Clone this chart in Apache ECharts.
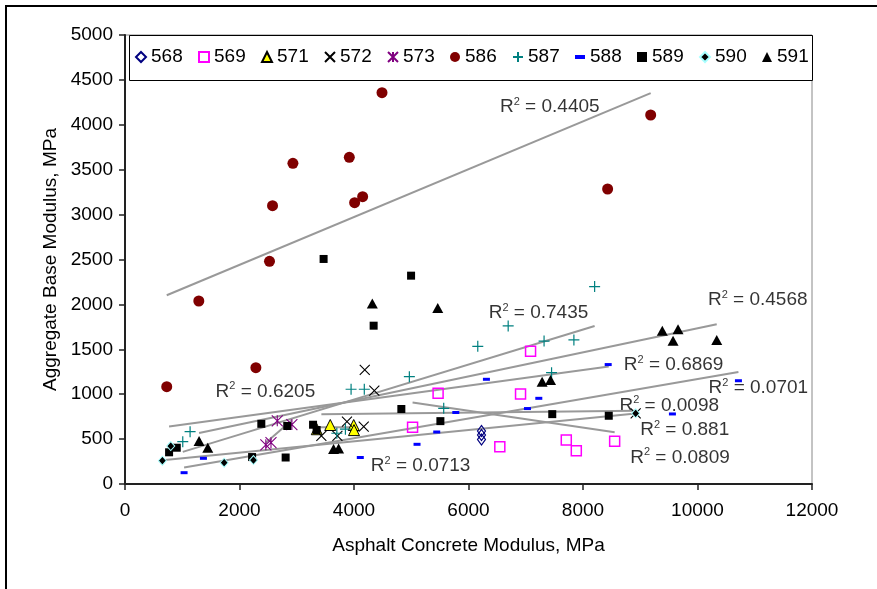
<!DOCTYPE html>
<html><head><meta charset="utf-8">
<style>html,body{margin:0;padding:0;background:#fff}#c{width:877px;height:589px}</style>
</head><body><div id="c"></div>
<script src="https://cdn.jsdelivr.net/npm/echarts@6/dist/echarts.min.js"></script>
<script>
// ---- axis settings ----
const xMin = 0, xMax = 12000, xStep = 2000;
const yMin = 0, yMax = 5000, yStep = 500;
const xTitle = 'Asphalt Concrete Modulus, MPa';
const yTitle = 'Aggregate Base Modulus, MPa';

// ---- series data [AC modulus, base modulus] ----
const names = ['568','569','571','572','573','586','587','588','589','590','591'];
const s568 = [[6227,590],[6227,545],[6227,495]];
const s569 = [[5023,631],[5469,1010],[6547,416],[6909,1002],[7084,1478],[7708,490],[7883,371],[8553,475]];
const s571 = [[3350,610],[3585,657],[3995,657],[4000,600]];
const s572 = [[3430,537],[3710,537],[3877,694],[4170,640],[4188,1270],[4355,1039],[8920,787]];
const s573 = [[2460,436],[2550,460],[2660,703],[2915,662]];
const s586 = [[729,1084],[1289,2038],[2286,1295],[2524,2480],[2577,3099],[2933,3571],[3918,3638],[4011,3133],[4151,3200],[4489,4358],[8430,3285],[9182,4109]];
const s587 = [[1009,471],[1137,583],[3700,565],[3850,610],[3949,1055],[4180,1055],[4967,1195],[5567,843],[6162,1533],[6693,1760],[7320,1592],[7451,1240],[7841,1604],[8203,2198]];
const s588 = [[1032,126],[1370,286],[4110,295],[5101,442],[5445,579],[5778,796],[6313,1166],[7030,840],[7228,954],[8440,1330],[9562,780],[10715,1150]];
const s589 = [[770,353],[904,404],[2220,300],[2381,670],[2806,295],[2834,646],[3285,660],[3347,601],[3469,2506],[4343,1763],[4827,835],[4997,2320],[5509,700],[7463,778],[8450,760]];
const s590 = [[653,259],[799,423],[1732,237],[2244,267],[8920,787]];
const s591 = [[1294,479],[1446,404],[3643,390],[3731,395],[4320,2010],[5463,1960],[7286,1139],[7433,1158],[9385,1707],[9573,1596],[9660,1723],[10336,1604]];

// ---- linear trendline end points ----
const t569 = [[5023,908],[8553,577]];
const t571 = [[3350,631],[4000,631]];
const t572 = [[3430,776],[8920,817]];
const t573 = [[2460,460],[2915,710]];
const t586 = [[729,2102],[9182,4352]];
const t587 = [[1009,358],[8203,1760]];
const t588 = [[1032,183],[10715,1246]];
const t589 = [[770,640],[8450,1308]];
const t590 = [[653,265],[8920,785]];
const t591 = [[1294,568],[10336,1779]];

// ---- R-squared labels: position (data units) and text ----
const r2X = [6541, 6344, 10174, 8704, 10184, 8628, 8990, 8815, 1574, 4285];
const r2Y = [4198, 1904, 2049, 1325, 1069, 872, 601, 290, 1028, 200];
const r2Val = ['0.4405','0.7435','0.4568','0.6869','0.0701','0.0098','0.881','0.0809','0.6205','0.0713'];

const FONT = 'Liberation Sans, Arial, sans-serif';
const FS = 19;

const P_X = 'path://M0,0L10,10M10,0L0,10';
const P_AST = 'path://M0,0L10,10M10,0L0,10M5,0L5,10';
const P_PLUS = 'path://M5,0L5,10M0,5L10,5';
const P_DASH = 'path://M0,0L10,0L10,4L0,4Z';

const styles = {
  '568': {data:s568, symbol:'diamond', size:[8,11], item:{color:'rgba(255,255,255,0)', borderColor:'#000080', borderWidth:1.2}},
  '569': {data:s569, symbol:'rect', size:10, item:{color:'rgba(255,255,255,0)', borderColor:'#FF00FF', borderWidth:1.5}},
  '571': {data:s571, symbol:'triangle', size:11, item:{color:'#FFFF00', borderColor:'#000', borderWidth:1}},
  '572': {data:s572, symbol:P_X, size:10, item:{color:'rgba(0,0,0,0)', borderColor:'#000', borderWidth:1.1}},
  '573': {data:s573, symbol:P_AST, size:11, item:{color:'rgba(0,0,0,0)', borderColor:'#800080', borderWidth:1.1}},
  '586': {data:s586, symbol:'circle', size:11, item:{color:'#800000'}},
  '587': {data:s587, symbol:P_PLUS, size:11, item:{color:'rgba(0,0,0,0)', borderColor:'#008080', borderWidth:1.2}},
  '588': {data:s588, symbol:'rect', size:[7,3], item:{color:'#0000FF'}},
  '589': {data:s589, symbol:'rect', size:8, item:{color:'#000'}},
  '590': {data:s590, symbol:'diamond', size:[8,9], item:{color:'#000', borderColor:'#A8FFFF', borderWidth:1}},
  '591': {data:s591, symbol:'triangle', size:[11,10], item:{color:'#000'}}
};
const trends = [t569,t571,t572,t573,t586,t587,t588,t589,t590,t591];

const series = [];
// R2 labels (under the markers)
series.push({
  type:'scatter', name:'r2', silent:true, symbolSize:1, z:1,
  itemStyle:{color:'rgba(0,0,0,0)'},
  data: r2X.map((x,i)=>[x, r2Y[i], r2Val[i]]),
  label:{show:true, position:'right', distance:0,
    formatter: p => '{a|R}{b|2}{a| = ' + p.data[2] + '}',
    rich:{
      a:{fontFamily:FONT, fontSize:FS, color:'#000', lineHeight:22},
      b:{fontFamily:FONT, fontSize:11, color:'#000', lineHeight:12, verticalAlign:'top'}
    }}
});
trends.forEach(t => series.push({
  type:'line', silent:true, symbol:'none', z:2, data:t,
  lineStyle:{color:'#999999', width:2, opacity:1}
}));
names.forEach(n => {
  const s = styles[n];
  series.push({type:'scatter', name:n, data:s.data, symbol:s.symbol, symbolSize:s.size,
    itemStyle:Object.assign({opacity:1}, s.item), z:3, emphasis:{disabled:true}});
});

const legendIcons = {'588':P_DASH};
const option = {
  animation:false,
  backgroundColor:'#fff',
  textStyle:{fontFamily:FONT},
  grid:{left:125, right:65, top:35, bottom:105, show:true, borderColor:'#888', borderWidth:1},
  legend:{
    data: names.map(n => legendIcons[n] ? {name:n, icon:legendIcons[n]} : {name:n}),
    left:135, top:47, itemWidth:10, itemHeight:10, itemGap:15.3, padding:0,
    textStyle:{fontFamily:FONT, fontSize:FS, color:'#000', lineHeight:20},
    selectedMode:false
  },
  xAxis:{type:'value', min:xMin, max:xMax, interval:xStep,
    name:xTitle, nameLocation:'middle', nameGap:52,
    nameTextStyle:{fontFamily:FONT, fontSize:FS, color:'#000'},
    axisLine:{show:true, onZero:false, lineStyle:{color:'#222', width:2}},
    axisTick:{show:true, inside:false, length:6, lineStyle:{color:'#222', width:1.5}},
    axisLabel:{fontFamily:FONT, fontSize:FS, color:'#000', margin:17, formatter: v => String(v)},
    splitLine:{show:false}},
  yAxis:{type:'value', min:yMin, max:yMax, interval:yStep,
    name:yTitle, nameLocation:'middle', nameGap:65,
    nameTextStyle:{fontFamily:FONT, fontSize:FS, color:'#000'},
    axisLine:{show:true, onZero:false, lineStyle:{color:'#222', width:2}},
    axisTick:{show:true, inside:false, length:6, lineStyle:{color:'#222', width:1.5}},
    axisLabel:{fontFamily:FONT, fontSize:FS, color:'#000', margin:12, formatter: v => String(v)},
    splitLine:{show:false}},
  graphic:[
    {type:'rect', left:5, top:5, shape:{width:1000, height:1000}, silent:true, z:-1,
      style:{fill:'rgba(0,0,0,0)', stroke:'#000', lineWidth:2}},
    {type:'rect', left:129, top:35, shape:{width:683, height:45}, silent:true, z:0,
      style:{fill:'#fff', stroke:'#000', lineWidth:1}}
  ],
  series: series
};
const chart = echarts.init(document.getElementById('c'), null, {renderer:'canvas'});
chart.setOption(option);
</script>
</body></html>
